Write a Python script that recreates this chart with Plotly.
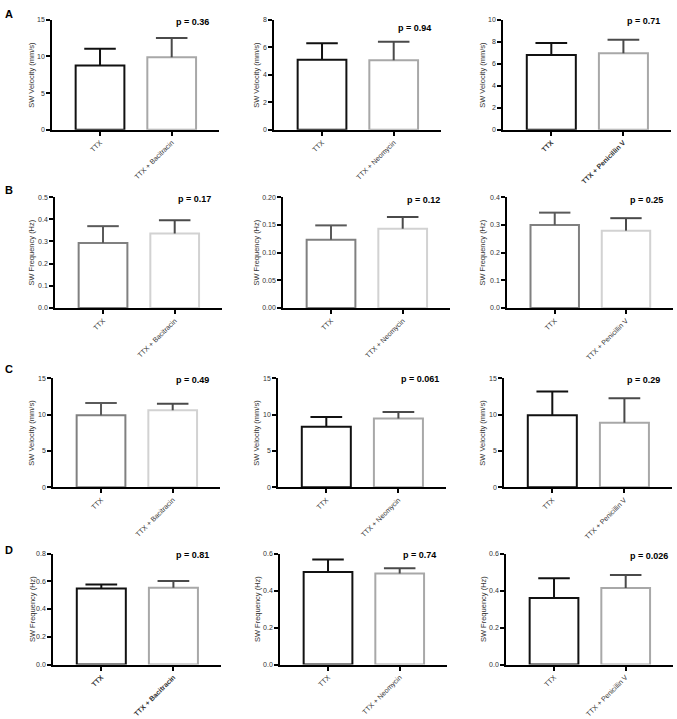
import plotly.graph_objects as go

# ---------------- data ----------------
panel_letters = ["A", "B", "C", "D"]
row_ylabels = ["SW Velocity (mm/s)", "SW Frequency (Hz)", "SW Velocity (mm/s)", "SW Frequency (Hz)"]
drugs = ["Bacitracin", "Neomycin", "Penicillin V"]
control = "TTX"

means_A = [[8.78, 9.91], [5.09, 5.05], [6.80, 6.95]]
sems_A = [[2.26, 2.61], [1.20, 1.36], [1.10, 1.25]]
means_B = [[0.293, 0.336], [0.123, 0.143], [0.299, 0.279]]
sems_B = [[0.076, 0.060], [0.026, 0.021], [0.045, 0.045]]
means_C = [[9.91, 10.59], [8.33, 9.46], [9.91, 8.87]]
sems_C = [[1.68, 0.91], [1.35, 0.90], [3.29, 3.38]]
means_D = [[0.549, 0.554], [0.501, 0.4925], [0.360, 0.414]]
sems_D = [[0.029, 0.048], [0.067, 0.0285], [0.106, 0.070]]

p_A = ["p = 0.36", "p = 0.94", "p = 0.71"]
p_B = ["p = 0.17", "p = 0.12", "p = 0.25"]
p_C = ["p = 0.49", "p = 0.061", "p = 0.29"]
p_D = ["p = 0.81", "p = 0.74", "p = 0.026"]

ymax_rows = [[15, 8, 10], [0.5, 0.2, 0.4], [15, 15, 15], [0.8, 0.6, 0.6]]
dtick_rows = [[5, 2, 2], [0.1, 0.05, 0.1], [5, 5, 5], [0.2, 0.2, 0.2]]
fmt_rows = [[".0f", ".0f", ".0f"], [".1f", ".2f", ".1f"], [".0f", ".0f", ".0f"], [".1f", ".1f", ".1f"]]

means = [means_A, means_B, means_C, means_D]
sems = [sems_A, sems_B, sems_C, sems_D]
pvals = [p_A, p_B, p_C, p_D]

# ---------------- style ----------------
W, H = 677, 719
FONT = "Liberation Sans, Arial, sans-serif"
col_px_rows = [
    [(52, 219), (274, 441), (503, 671)],
    [(55, 222), (283, 450), (507, 673)],
    [(53, 220), (278, 446), (504, 672)],
    [(53, 221), (280, 447), (506, 673)],
]
row_px = [(16, 127), (195, 307), (378, 488), (555, 667)]
ytitle_x = [32, 257, 483]
p_right = [[211, 433, 662], [213, 442, 665], [211, 441, 662], [211, 438, 670]]
p_y = [[18, 24, 17], [197, 198, 198], [380, 379, 380], [556, 556, 557]]
letter_y = [10, 188, 369, 551]

dark_scheme = (["#111111", "#a8a8a8"], ["#111111", "#4a4a4a"])
gray_scheme = (["#808080", "#d2d2d2"], ["#5a5a5a", "#4a4a4a"])
scheme_rows = [["d", "d", "d"], ["g", "g", "g"], ["g", "d", "d"], ["d", "d", "d"]]
bold_rows = [[False, False, True], [False, False, False], [False, False, False], [True, False, False]]

BAR_W = 0.68
CAP = 0.22
XR = [-0.67, 1.66]


def fx(px):
    return px / W


def fy(px):
    return 1 - px / H


fig = go.Figure()
layout = dict(
    width=W, height=H, margin=dict(l=0, r=0, t=0, b=0),
    paper_bgcolor="white", plot_bgcolor="white", showlegend=False,
    font=dict(family=FONT, color="#333333", size=7),
)
annotations = []

k = 0
for r in range(4):
    for c in range(3):
        k += 1
        xname = "x" if k == 1 else f"x{k}"
        yname = "y" if k == 1 else f"y{k}"
        xkey = "xaxis" if k == 1 else f"xaxis{k}"
        ykey = "yaxis" if k == 1 else f"yaxis{k}"
        outline, errc = dark_scheme if scheme_rows[r][c] == "d" else gray_scheme
        m = means[r][c]
        s = sems[r][c]
        labels = [control, f"{control} + {drugs[c]}"]
        if bold_rows[r][c]:
            labels = [f"<b>{t}</b>" for t in labels]
        cx0, cx1 = col_px_rows[r][c]

        fig.add_trace(go.Bar(
            x=[0, 1], y=m, width=BAR_W, xaxis=xname, yaxis=yname,
            marker=dict(color="white", line=dict(color=outline, width=2)),
            hoverinfo="skip",
        ))
        for i in range(2):
            top = m[i] + s[i]
            fig.add_trace(go.Scatter(
                x=[i, i, None, i - CAP, i + CAP], y=[m[i], top, None, top, top],
                mode="lines", line=dict(color=errc[i], width=2),
                xaxis=xname, yaxis=yname, cliponaxis=False, hoverinfo="skip",
            ))

        layout[xkey] = dict(
            domain=[fx(cx0), fx(cx1)], anchor=yname,
            range=XR, tickvals=[0, 1], ticktext=labels, tickangle=-45,
            ticks="outside", ticklen=4, tickwidth=1.5, tickcolor="black",
            showline=True, linewidth=2, linecolor="black",
            showgrid=False, zeroline=False, tickfont=dict(size=7, color="#333333"),
        )
        layout[ykey] = dict(
            domain=[fy(row_px[r][1]), fy(row_px[r][0])], anchor=xname,
            range=[0, ymax_rows[r][c]], tick0=0, dtick=dtick_rows[r][c],
            tickformat=fmt_rows[r][c],
            ticks="outside", ticklen=4, tickwidth=1.5, tickcolor="black",
            showline=True, linewidth=1.5, linecolor="black",
            showgrid=False, zeroline=False, tickfont=dict(size=7, color="#333333"),
        )
        # y-axis title
        annotations.append(dict(
            text=row_ylabels[r], xref="paper", yref="paper",
            x=fx(ytitle_x[c]), y=fy((row_px[r][0] + row_px[r][1]) / 2),
            textangle=-90, showarrow=False, xanchor="center", yanchor="middle",
            font=dict(size=7.5, color="#333333", family=FONT),
        ))
        # p-value
        annotations.append(dict(
            text=f"<b>{pvals[r][c]}</b>", xref="paper", yref="paper",
            x=fx(p_right[r][c]), y=fy(p_y[r][c]), showarrow=False,
            xanchor="right", yanchor="middle",
            font=dict(size=9, color="black", family=FONT),
        ))
    annotations.append(dict(
        text=f"<b>{panel_letters[r]}</b>", xref="paper", yref="paper",
        x=fx(3), y=fy(letter_y[r]), showarrow=False,
        xanchor="left", yanchor="middle",
        font=dict(size=11, color="black", family=FONT),
    ))

layout["annotations"] = annotations
fig.update_layout(**layout)
fig.write_html(
    "out.html",
    config={"displayModeBar": False},
    post_script="document.body.style.margin='0px';document.body.style.overflow='hidden';",
)
